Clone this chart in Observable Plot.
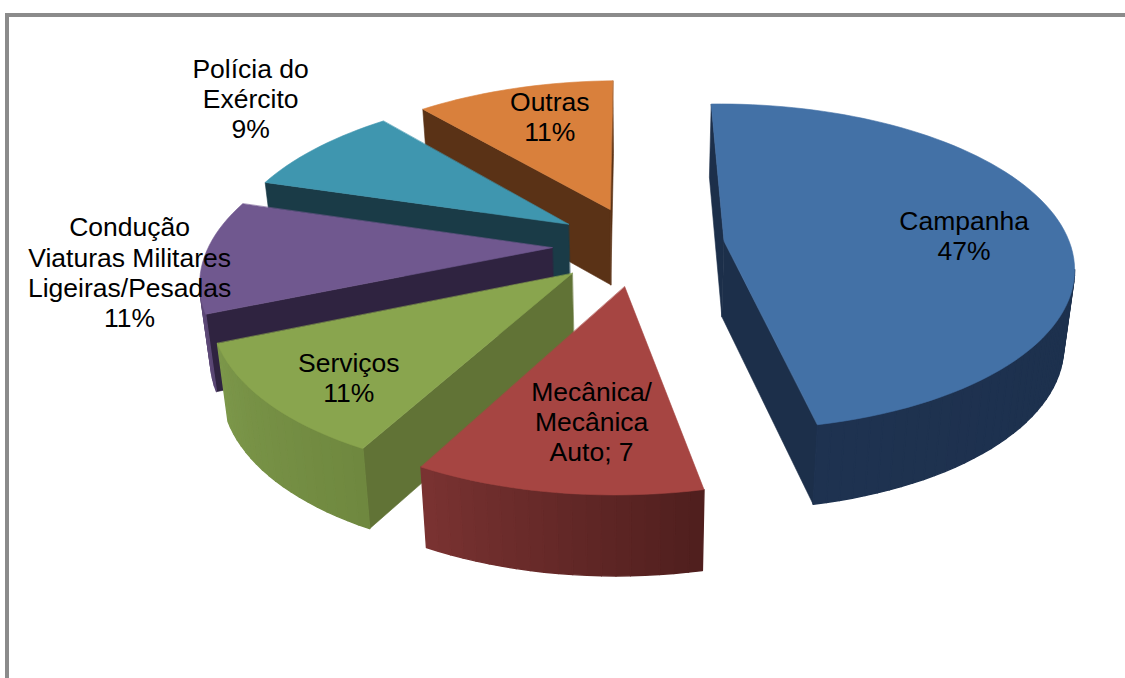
<!DOCTYPE html>
<html><head><meta charset="utf-8">
<script src="https://cdn.jsdelivr.net/npm/d3@7"></script>
<script src="https://cdn.jsdelivr.net/npm/@observablehq/plot@0.6"></script>
<style>
html,body{margin:0;padding:0;background:#fff;overflow:hidden}
#frame{position:absolute;left:5px;top:13px;width:1125px;height:670px;border-left:4px solid #8b8b8b;border-top:4px solid #8b8b8b;box-sizing:border-box;pointer-events:none}
#chart{position:absolute;left:0;top:0}
</style></head><body>
<div id="chart"></div><div id="frame"></div>
<script>
const categories = ["Campanha","Mecânica/Mecânica Auto","Serviços","Condução Viaturas Militares Ligeiras/Pesadas","Polícia do Exército","Outras"];
const shares = [47, 11, 11, 11, 9, 11];
const labels = ["Campanha\n47%","Mecânica/\nMecânica\nAuto; 7","Serviços\n11%","Condução\nViaturas Militares\nLigeiras/Pesadas\n11%","Polícia do\nExército\n9%","Outras\n11%"];
const labelReach = [0.955, 0.942, 1.04, 1.446, 1.702, 0.971];
const labelTurn = [1.9, -1.75, -2.9, -4.4, 5.25, 2.3];
const topColors = ["#4371a6","#a64542","#89a54e","#70588f","#3f96af","#d9803c"];
const radialColors = ["#1c2f4a","#4f1e1d","#617336","#2f2340","#1a3b47","#5a3216"];
const rimFrom = ["#1b2e49","#4f1e1d","#6f883f","#594672","#1a3b47","#5a3216"];
const rimTo = ["#1e3250","#7a3331","#7c974a","#6a5386","#2d6f82","#8a4f22"];
const drawOrder = [5,4,3,2,1,0];

// view of the tilted pie
const W = 1125, H = 678, cx = 638, cy = 245, A = 345, B = 160, persp = 0.16, roll = -0.02;
const firstAngle = -0.2, explode = 0.25, drop = 76/B, shrink = 0.975, grow = 1.02;
const total = d3.sum(shares);
const rad = d => d*Math.PI/180;
const flat3 = (X,Y) => { const q = 1/(1-persp*Y); return {x:X*q, y:Y*q}; };
const top3 = (X,Y) => { const p = flat3(X,Y); return {x:p.x, y:p.y+roll*p.x}; };
const low3 = (X,Y) => { const p = top3(X,Y); return {x:p.x*shrink, y:p.y*grow+drop}; };
// a wall shows only when its outward normal turns towards the viewer
const faces3 = (nAngle,[px,py]) => Math.sin(rad(nAngle))*(0-px) - Math.cos(rad(nAngle))*(1/persp-py) > 0;

let acc = firstAngle;
const slices = shares.map((s,i) => {
  const a0 = acc, a1 = acc + s/total*360; acc = a1;
  const mid = (a0+a1)/2;
  return {i, a0, a1, mid, ox: explode*Math.sin(rad(mid)), oy: -explode*Math.cos(rad(mid))};
});
const rimPoint = (s,a) => [s.ox+Math.sin(rad(a)), s.oy-Math.cos(rad(a))];

const faces = [];
let faceId = 0;
const addFace = (pts,color,sw) => { const id = faceId++; pts.forEach(p => faces.push({x:p.x,y:p.y,id,color,sw})); };
for (const i of drawOrder) {
  const s = slices[i], apex = [s.ox,s.oy], n = Math.ceil((s.a1-s.a0)/2);
  const angle = k => s.a0+(s.a1-s.a0)*k/n;
  const paint = d3.interpolateRgb(rimFrom[i],rimTo[i]);
  if (faces3(s.a0-90,apex)) { const r = rimPoint(s,s.a0); addFace([top3(...apex),top3(...r),low3(...r),low3(...apex)],radialColors[i],0.6); }
  if (faces3(s.a1+90,apex)) { const r = rimPoint(s,s.a1); addFace([top3(...apex),top3(...r),low3(...r),low3(...apex)],radialColors[i],0.6); }
  for (let k=0;k<n;k++) {
    const m = (angle(k)+angle(k+1))/2;
    if (!faces3(m,rimPoint(s,m))) continue;
    const p = rimPoint(s,angle(k)), q = rimPoint(s,angle(k+1));
    addFace([top3(...p),top3(...q),low3(...q),low3(...p)],d3.color(paint((k+.5)/n)).formatHex(),1.4);
  }
  const topFace = [top3(...apex)];
  for (let k=0;k<=n;k++) topFace.push(top3(...rimPoint(s,angle(k))));
  addFace(topFace,topColors[i],0.6);
}
const labelRows = slices.map(s => {
  const a = rad(s.mid+labelTurn[s.i]), r = labelReach[s.i];
  const p = flat3(r*Math.sin(a), -r*Math.cos(a));
  return {x:p.x,y:p.y,text:labels[s.i],name:categories[s.i]};
});

const chart = Plot.plot({
  width:W, height:H, margin:0,
  x:{domain:[-cx/A,(W-cx)/A],range:[0,W],axis:null},
  y:{domain:[-cy/B,(H-cy)/B],range:[0,H],axis:null},
  color:{type:"identity"},
  style:{background:"transparent"},
  marks:[
    Plot.line(faces,{x:"x",y:"y",z:"id",fill:"color",stroke:"color",strokeWidth:"sw",curve:"linear-closed"}),
    Plot.text(labelRows,{x:"x",y:"y",text:"text",fontSize:26.5,lineHeight:1.135,fontFamily:"'Liberation Sans',Arial,sans-serif",fill:"#000",textAnchor:"middle"})
  ]
});
document.getElementById("chart").append(chart);
</script>
</body></html>
